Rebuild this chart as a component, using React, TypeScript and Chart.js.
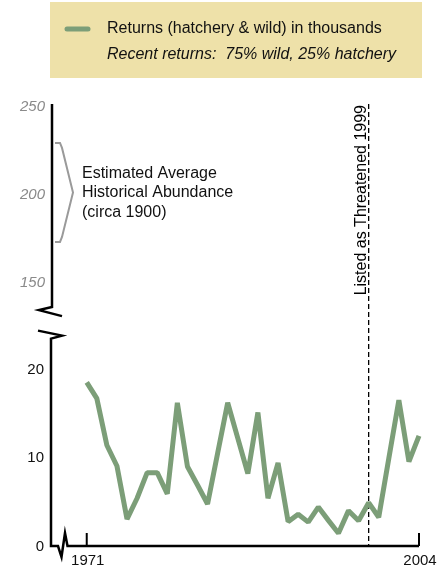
import { useEffect, useRef } from "react";
import Chart from "chart.js/auto";

const years = [
  1971, 1972, 1973, 1974, 1975, 1976, 1977, 1978, 1979, 1980, 1981, 1982,
  1983, 1984, 1985, 1986, 1987, 1988, 1989, 1990, 1991, 1992, 1993, 1994,
  1995, 1996, 1997, 1998, 1999, 2000, 2001, 2002, 2003, 2004,
];
const returnsThousands = [
  18.5, 16.7, 11.4, 9.05, 3.05, 5.4, 8.3, 8.3, 5.9, 16.2, 9.0, 6.9,
  4.75, 10.5, 16.2, 12.2, 8.2, 15.1, 5.4, 9.4, 2.75, 3.6, 2.7, 4.4,
  2.9, 1.45, 4.0, 2.85, 4.9, 3.25, 9.9, 16.5, 9.55, 12.45,
];
const lowerTicks = [0, 10, 20];
const upperTicks = [150, 200, 250];
const xTickYears = [1971, 2004];
const listedYear = 1999;
const historicalRange = [172, 228];
const historicalCenter = 200;
const lowerAxisTop = 23.8;
const upperAxisBottom = 134;
const legendLines = [
  "Returns (hatchery & wild) in thousands",
  "Recent returns:  75% wild, 25% hatchery",
];
const historicalLabel = ["Estimated Average", "Historical Abundance", "(circa 1900)"];
const listedLabel = "Listed as Threatened 1999";

const GREEN = "#7c9e78";
const FONT = '"Liberation Sans", Arial, Helvetica, sans-serif';

export default function App() {
  const ref = useRef<HTMLCanvasElement | null>(null);
  useEffect(() => {
    const canvas = ref.current;
    if (!canvas) return;

    const decor = {
      id: "decor",
      beforeDatasetsDraw(chart: any) {
        const ctx = chart.ctx;
        const xs = chart.scales.x;
        const area = chart.chartArea;
        const xl = xs.getPixelForValue(listedYear);
        ctx.save();
        ctx.strokeStyle = "#000";
        ctx.lineWidth = 1.3;
        ctx.setLineDash([5, 3]);
        ctx.beginPath();
        ctx.moveTo(xl, area.top);
        ctx.lineTo(xl, area.bottom);
        ctx.stroke();
        ctx.setLineDash([]);
        // vertical label
        ctx.translate(xl - 3, area.top + 1);
        ctx.rotate(-Math.PI / 2);
        ctx.fillStyle = "#000";
        ctx.font = `16px ${FONT}`;
        ctx.textAlign = "right";
        ctx.textBaseline = "alphabetic";
        ctx.fillText(listedLabel, 0, 0);
        ctx.restore();
      },
      afterDraw(chart: any) {
        const ctx = chart.ctx;
        const xs = chart.scales.x;
        const ys = chart.scales.y;
        const y2 = chart.scales.y2;
        const area = chart.chartArea;
        const ax = area.left;
        ctx.save();

        // legend box
        ctx.fillStyle = "#eee1a9";
        ctx.fillRect(50, 2, 372, 76);
        ctx.strokeStyle = GREEN;
        ctx.lineWidth = 5;
        ctx.lineCap = "round";
        ctx.beginPath();
        ctx.moveTo(67, 29);
        ctx.lineTo(88, 29);
        ctx.stroke();
        ctx.lineCap = "butt";
        ctx.fillStyle = "#111";
        ctx.textBaseline = "middle";
        ctx.textAlign = "left";
        ctx.font = `16px ${FONT}`;
        ctx.fillText(legendLines[0], 107, 29);
        ctx.font = `italic 16px ${FONT}`;
        ctx.fillText(legendLines[1], 107, 55);

        // axes
        ctx.strokeStyle = "#000";
        ctx.lineWidth = 2.5;
        ctx.lineJoin = "miter";
        const upBottom = y2.getPixelForValue(upperAxisBottom);
        const lowTop = ys.getPixelForValue(lowerAxisTop);
        ctx.beginPath();
        ctx.moveTo(ax, area.top);
        ctx.lineTo(ax, upBottom - 2);
        ctx.lineTo(ax - 13, upBottom + 1);
        ctx.lineTo(ax + 10, upBottom + 7);
        ctx.stroke();

        const base = ys.getPixelForValue(0);
        ctx.beginPath();
        ctx.moveTo(ax - 14, lowTop - 5);
        ctx.lineTo(ax + 10, lowTop);
        ctx.lineTo(ax - 1, lowTop + 3);
        ctx.lineTo(ax - 1, base);
        ctx.lineTo(ax + 6, base);
        ctx.lineTo(ax + 9.5, base + 11);
        ctx.lineTo(ax + 13, base - 13);
        ctx.lineTo(ax + 15.5, base);
        ctx.lineTo(area.right, base);
        ctx.stroke();

        // x ticks (inward)
        ctx.lineWidth = 2;
        xTickYears.forEach((yr) => {
          const px = xs.getPixelForValue(yr);
          ctx.beginPath();
          ctx.moveTo(px, base);
          ctx.lineTo(px, base - 13);
          ctx.stroke();
        });

        // tick labels
        ctx.font = `15px ${FONT}`;
        ctx.fillStyle = "#111";
        ctx.textAlign = "right";
        ctx.textBaseline = "middle";
        lowerTicks.forEach((v) => {
          ctx.fillText(String(v), 44, ys.getPixelForValue(v) + 0.5);
        });
        ctx.font = `italic 15px ${FONT}`;
        ctx.fillStyle = "#8a8a8a";
        upperTicks.forEach((v) => {
          ctx.fillText(String(v), 45, y2.getPixelForValue(v) + 2.5);
        });
        ctx.font = `15px ${FONT}`;
        ctx.fillStyle = "#111";
        ctx.textAlign = "center";
        xTickYears.forEach((yr) => {
          ctx.fillText(String(yr), xs.getPixelForValue(yr) + 1, 561);
        });

        // bracket
        const bt = y2.getPixelForValue(historicalRange[1]);
        const bb = y2.getPixelForValue(historicalRange[0]);
        const bc = y2.getPixelForValue(historicalCenter);
        ctx.strokeStyle = "#9a9a9a";
        ctx.lineWidth = 2;
        ctx.lineJoin = "miter";
        ctx.beginPath();
        ctx.moveTo(55, bt);
        ctx.lineTo(60, bt);
        ctx.lineTo(62, bt + 5);
        ctx.lineTo(73, bc);
        ctx.lineTo(62, bb - 5);
        ctx.lineTo(60, bb);
        ctx.lineTo(55, bb);
        ctx.stroke();

        ctx.font = `16px ${FONT}`;
        ctx.fillStyle = "#111";
        ctx.textAlign = "left";
        ctx.textBaseline = "middle";
        historicalLabel.forEach((t, i) => {
          ctx.fillText(t, 82, bc + 0.5 + (i - 1) * 19.5);
        });
        ctx.restore();
      },
    };

    const chart = new Chart(canvas, {
      type: "line",
      data: {
        datasets: [
          {
            data: years.map((yr, i) => ({ x: yr, y: returnsThousands[i] })),
            borderColor: GREEN,
            borderWidth: 5,
            borderJoinStyle: "bevel",
            borderCapStyle: "butt",
            pointRadius: 0,
            tension: 0,
            fill: false,
            yAxisID: "y",
            clip: false as any,
          },
        ],
      },
      options: {
        responsive: false,
        animation: false,
        devicePixelRatio: 1,
        layout: { padding: { left: 52, right: 20, top: 104, bottom: 25 } },
        plugins: { legend: { display: false }, tooltip: { enabled: false } },
        scales: {
          x: { type: "linear", min: 1967.55, max: 2004, display: false },
          y: { type: "linear", min: 0, max: 50, display: false },
          y2: { type: "linear", min: 0, max: 250, display: false, position: "left" },
        },
      },
      plugins: [decor],
    } as any);
    return () => chart.destroy();
  }, []);

  return (
    <div style={{ position: "absolute", left: 0, top: 0, width: 439, height: 571, background: "#fff" }}>
      <canvas ref={ref} width={439} height={571} style={{ display: "block" }} />
    </div>
  );
}
